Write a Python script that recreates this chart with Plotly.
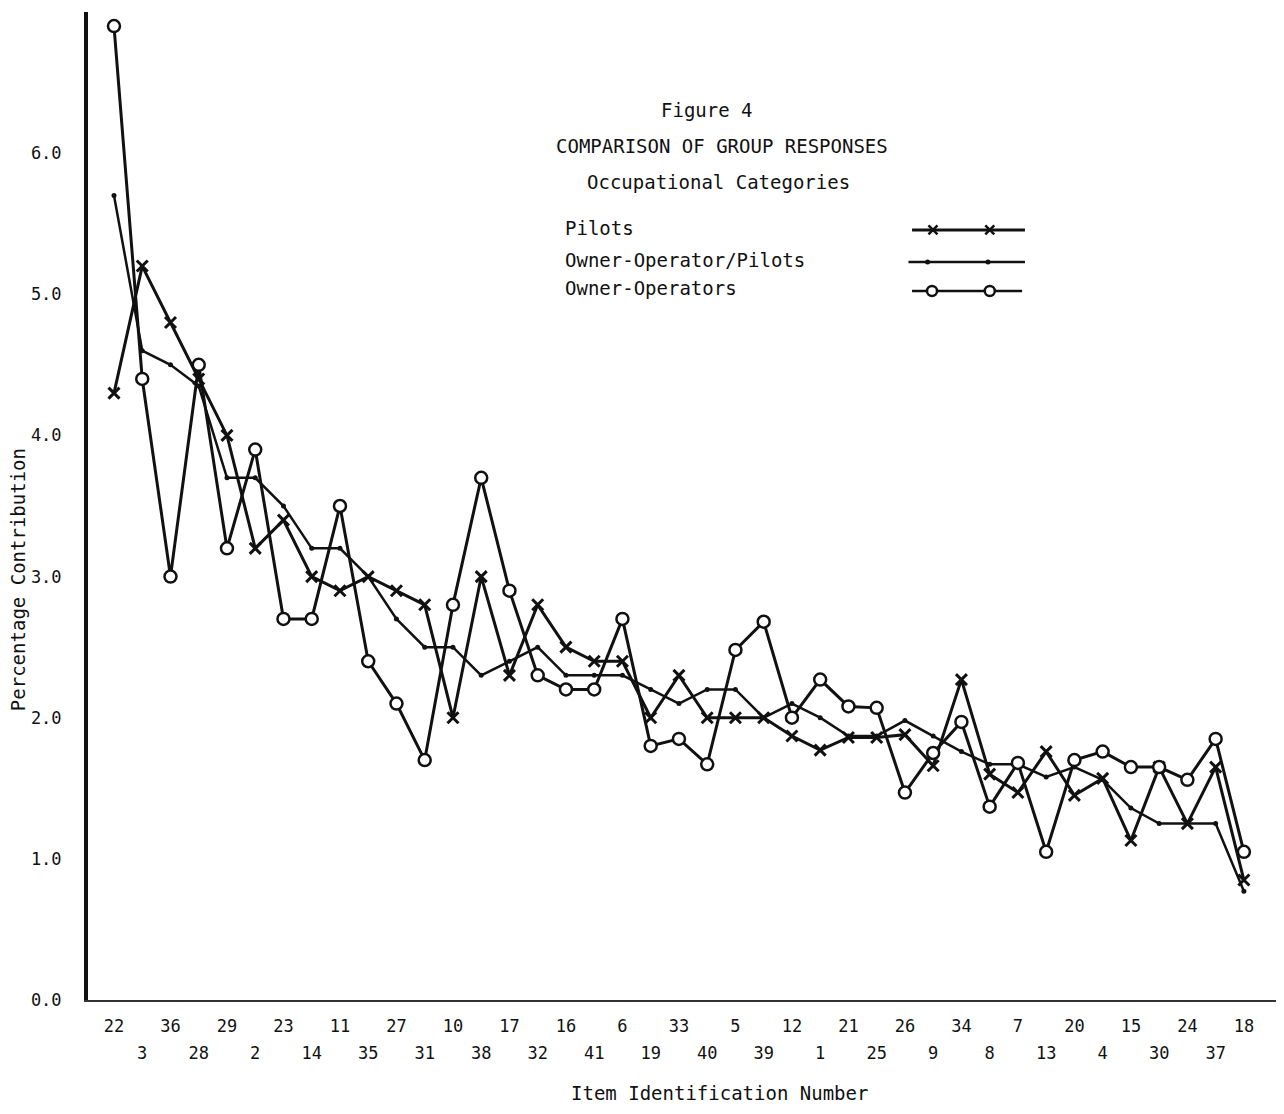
import plotly.graph_objects as go

# Item identification numbers in plotted order (alternating top / bottom label rows)
items = ["22", "3", "36", "28", "29", "2", "23", "14", "11", "35", "27", "31", "10", "38",
         "17", "32", "16", "41", "6", "19", "33", "40", "5", "39", "12", "1", "21", "25",
         "26", "9", "34", "8", "7", "13", "20", "4", "15", "30", "24", "37", "18"]

pilots = [4.3, 5.2, 4.8, 4.4, 4.0, 3.2, 3.4, 3.0, 2.9, 3.0, 2.9, 2.8, 2.0, 3.0, 2.3,
          2.8, 2.5, 2.4, 2.4, 2.0, 2.3, 2.0, 2.0, 2.0, 1.87, 1.77, 1.86, 1.86, 1.88,
          1.66, 2.27, 1.6, 1.47, 1.76, 1.45, 1.57, 1.13, 1.65, 1.25, 1.65, 0.85]

owner_op_pilots = [5.7, 4.6, 4.5, 4.35, 3.7, 3.7, 3.5, 3.2, 3.2, 3.0, 2.7, 2.5, 2.5, 2.3,
                   2.4, 2.5, 2.3, 2.3, 2.3, 2.2, 2.1, 2.2, 2.2, 2.0, 2.1, 2.0, 1.87, 1.87,
                   1.98, 1.87, 1.76, 1.67, 1.67, 1.58, 1.65, 1.56, 1.36, 1.25, 1.25, 1.25, 0.77]

owner_ops = [6.9, 4.4, 3.0, 4.5, 3.2, 3.9, 2.7, 2.7, 3.5, 2.4, 2.1, 1.7, 2.8, 3.7, 2.9,
             2.3, 2.2, 2.2, 2.7, 1.8, 1.85, 1.67, 2.48, 2.68, 2.0, 2.27, 2.08, 2.07, 1.47,
             1.75, 1.97, 1.37, 1.68, 1.05, 1.7, 1.76, 1.65, 1.65, 1.56, 1.85, 1.05]

y_ticks = [0.0, 1.0, 2.0, 3.0, 4.0, 5.0, 6.0]

FONT = "DejaVu Sans Mono"
BLACK = "#111111"

idx = list(range(len(items)))
top_idx = idx[0::2]
bot_idx = idx[1::2]

fig = go.Figure()

fig.add_trace(go.Scatter(
    x=idx, y=pilots, mode="lines+markers", name="Pilots",
    line=dict(color=BLACK, width=3),
    marker=dict(symbol="x-thin", size=11, line=dict(color=BLACK, width=3)),
))
fig.add_trace(go.Scatter(
    x=idx, y=owner_op_pilots, mode="lines+markers", name="Owner-Operator/Pilots",
    line=dict(color=BLACK, width=2.5),
    marker=dict(symbol="circle", size=5, color=BLACK),
))
fig.add_trace(go.Scatter(
    x=idx, y=owner_ops, mode="lines+markers", name="Owner-Operators",
    line=dict(color=BLACK, width=3),
    marker=dict(symbol="circle", size=12, color="white", line=dict(color=BLACK, width=2.5)),
))
# invisible trace so the second (bottom-row) label axis is drawn
fig.add_trace(go.Scatter(x=[bot_idx[0]], y=[0], xaxis="x2", mode="markers",
                         marker=dict(opacity=0), showlegend=False, hoverinfo="skip"))

# legend samples (symbols to the right of the text, as in the original)
leg_y = [0.7794, 0.747, 0.7176]
fig.add_trace(go.Scatter(x=[0.689, 0.7834], y=[leg_y[0]] * 2, xaxis="x3", yaxis="y3",
                         mode="lines", line=dict(color=BLACK, width=3), showlegend=False))
fig.add_trace(go.Scatter(x=[0.7065, 0.754], y=[leg_y[0]] * 2, xaxis="x3", yaxis="y3",
                         mode="markers", showlegend=False,
                         marker=dict(symbol="x-thin", size=9, line=dict(color=BLACK, width=2.5))))
fig.add_trace(go.Scatter(x=[0.686, 0.7834], y=[leg_y[1]] * 2, xaxis="x3", yaxis="y3",
                         mode="lines", showlegend=False, line=dict(color=BLACK, width=2.5)))
fig.add_trace(go.Scatter(x=[0.702, 0.7525], y=[leg_y[1]] * 2, xaxis="x3", yaxis="y3",
                         mode="markers", showlegend=False, marker=dict(size=5, color=BLACK)))
fig.add_trace(go.Scatter(x=[0.689, 0.781], y=[leg_y[2]] * 2, xaxis="x3", yaxis="y3",
                         mode="lines", line=dict(color=BLACK, width=2.5), showlegend=False))
fig.add_trace(go.Scatter(x=[0.7057, 0.754], y=[leg_y[2]] * 2, xaxis="x3", yaxis="y3",
                         mode="markers", showlegend=False,
                         marker=dict(symbol="circle", size=10, color="white",
                                     line=dict(color=BLACK, width=2.5))))

xr = [-0.92, 41.42]
fig.update_layout(
    width=1276, height=1106,
    margin=dict(l=80, r=0, t=4, b=114),
    paper_bgcolor="white", plot_bgcolor="white",
    showlegend=False,
    font=dict(family=FONT, color=BLACK, size=17),
    xaxis=dict(range=xr, tickmode="array", tickvals=top_idx, automargin=False,
               ticktext=[items[i] for i in top_idx], showgrid=False, zeroline=False,
               showline=True, linecolor="#333333", linewidth=2, ticks="",
               ticklabelstandoff=10, tickfont=dict(size=17, family=FONT)),
    xaxis2=dict(range=xr, overlaying="x", anchor="y", side="bottom", tickmode="array",
                tickvals=bot_idx, ticktext=[items[i] for i in bot_idx], showgrid=False,
                zeroline=False, showline=False, ticks="", ticklabelstandoff=41,
                automargin=False, tickfont=dict(size=17, family=FONT)),
    yaxis=dict(range=[0, 7.0], tickmode="array", tickvals=y_ticks, automargin=False,
               ticktext=[f"{v:.1f}" for v in y_ticks], showgrid=False, zeroline=False,
               showline=True, linecolor=BLACK, linewidth=4, ticks="",
               ticklabelstandoff=19, tickfont=dict(size=17, family=FONT)),
    xaxis3=dict(range=[0, 1], overlaying="x", anchor="y3", visible=False, automargin=False),
    yaxis3=dict(range=[0, 1], overlaying="y", anchor="x3", visible=False, automargin=False),
)

ann = [
    dict(text="Figure 4", x=0.5176, y=0.9008, size=19),
    dict(text="COMPARISON OF GROUP RESPONSES", x=0.530, y=0.8644, size=19),
    dict(text="Occupational Categories", x=0.527, y=0.828, size=19),
]
for a in ann:
    fig.add_annotation(text=a["text"], x=a["x"], y=a["y"], xref="paper", yref="paper",
                       showarrow=False, xanchor="center", yanchor="middle",
                       font=dict(family=FONT, size=a["size"], color=BLACK))

for name, yy in zip(["Pilots", "Owner-Operator/Pilots", "Owner-Operators"],
                    [0.7814, 0.749, 0.7206]):
    fig.add_annotation(text=name, x=0.397, y=yy, xref="paper", yref="paper",
                       showarrow=False, xanchor="left", yanchor="middle",
                       font=dict(family=FONT, size=19, color=BLACK))

fig.add_annotation(text="Item Identification Number", x=0.528, y=-0.094,
                   xref="paper", yref="paper", showarrow=False,
                   xanchor="center", yanchor="middle",
                   font=dict(family=FONT, size=19, color=BLACK))
fig.add_annotation(text="Percentage Contribution", x=-0.0585, y=0.425,
                   xref="paper", yref="paper", showarrow=False, textangle=-90,
                   xanchor="center", yanchor="middle",
                   font=dict(family=FONT, size=19, color=BLACK))

fig.write_html("out.html")
